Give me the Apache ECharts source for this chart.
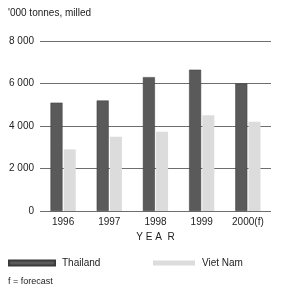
<!DOCTYPE html>
<html><head><meta charset="utf-8">
<script src="https://cdn.jsdelivr.net/npm/echarts@6/dist/echarts.min.js"></script>
<style>html,body{margin:0;padding:0;background:#fff}#c{width:283px;height:296px}</style>
</head><body><div id="c"></div>
<script>
var categories = ['1996', '1997', '1998', '1999', '2000(f)'];
var thailand = [5100, 5200, 6300, 6650, 6000];
var vietNam = [2900, 3500, 3730, 4510, 4200];
var yTicks = [0, 2000, 4000, 6000, 8000];

var font = 'Liberation Sans, Arial, sans-serif';
var chart = echarts.init(document.getElementById('c'));
chart.setOption({
  animation: false,
  backgroundColor: '#fff',
  textStyle: {fontFamily: font},
  grid: {left: 40, right: 12, top: 41, bottom: 85, containLabel: false},
  title: {text: "'000 tonnes, milled", left: 3, top: 3,
    textStyle: {fontSize: 10, fontWeight: 'normal', color: '#222', fontFamily: font}},
  legend: [
    {data: ['Thailand'], left: 8, top: 258, padding: 0, itemWidth: 46, itemHeight: 5, icon: 'rect', itemGap: 6,
      textStyle: {fontSize: 10, color: '#222', fontFamily: font, padding: [0, 0, 0, 2]}},
    {data: ['Viet Nam'], left: 153, top: 258, padding: 0, itemWidth: 42, itemHeight: 5, icon: 'rect',
      textStyle: {fontSize: 10, color: '#222', fontFamily: font, padding: [0, 0, 0, 2]}}
  ],
  graphic: [
    {type: 'text', left: 8, top: 277, style: {text: 'f = forecast', fontSize: 9, fill: '#222', font: '9px ' + font}}
  ],
  xAxis: {
    type: 'category', data: categories,
    name: 'Y E A  R', nameLocation: 'middle', nameGap: 20,
    nameTextStyle: {fontSize: 10, color: '#222', fontFamily: font},
    axisLine: {show: false}, axisTick: {show: false},
    axisLabel: {fontSize: 10, color: '#222', margin: 6, fontFamily: font}
  },
  yAxis: {
    type: 'value', min: 0, max: 8000, interval: 2000,
    axisLine: {show: false}, axisTick: {show: false},
    axisLabel: {fontSize: 10, color: '#222', margin: 6, fontFamily: font,
      formatter: function (v) { return v >= 1000 ? Math.floor(v / 1000) + ' ' + String(v % 1000).padStart(3, '0') : String(v); }},
    splitLine: {lineStyle: {color: '#6e6e6e', width: 1}}
  },
  series: [
    {name: 'Thailand', type: 'bar', data: thailand, barWidth: 12, barGap: '10%',
      itemStyle: {color: '#5a5a5a', borderColor: '#3a3a3a', borderWidth: 0.5}},
    {name: 'Viet Nam', type: 'bar', data: vietNam, barWidth: 12,
      itemStyle: {color: '#dcdcdc'}}
  ]
});
</script></body></html>
